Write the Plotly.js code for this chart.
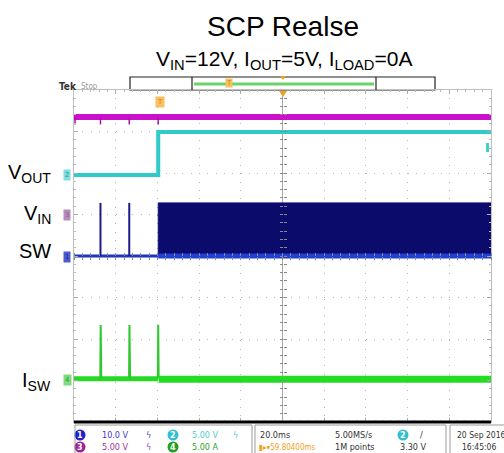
<!DOCTYPE html>
<html>
<head>
<meta charset="utf-8">
<script src="https://cdn.plot.ly/plotly-3.0.1.min.js"></script>
<style>html,body{margin:0;padding:0;background:#fff}#chart{width:504px;height:453px}</style>
</head>
<body>
<div id="chart"></div>
<script>
// ---- data (time in ms, 20 ms/div; amplitude in screen divisions) ----
const vinT  = [-100, 100];
const vinV  = [3.35, 3.35];
const vinDipT = [-99.5, -99.5, null, -87.3, -87.3, null, -73.5, -73.5, null, -59.6, -59.6];
const vinDipV = [3.35, 3.17, null, 3.35, 3.17, null, 3.35, 3.17, null, 3.35, 3.17];
const voutT = [-100, -59.6, -59.6, 100];
const voutV = [1.95, 1.95, 2.99, 2.99];
const swT   = [-100, -59.6];
const swV   = [0, 0];
const swSpikeT = [-87.3, -87.3, null, -73.5, -73.5];
const swSpikeV = [0, 1.28, null, 0, 1.28];
const swBurstT    = [-59.6, 100];
const swBurstHigh = [1.28, 1.28];
const swBurstLow  = [0, 0];
const iswT  = [-100, -59.6];
const iswV  = [-2.96, -2.96];
const iswSpikeT = [-87.4, -87.2, -86.9, null, -73.6, -73.4, -73.1, null, -59.8, -59.6, -59.4];
const iswSpikeV = [-2.95, -1.66, -2.95, null, -2.95, -1.66, -2.95, null, -2.95, -1.66, -2.95];
const iswOnT = [-59.4, 100];
const iswOnV = [-2.97, -2.97];
const chLabels = ['V<sub>OUT</sub>', 'V<sub>IN</sub>', 'SW', 'I<sub>SW</sub>'];

// ---- helpers: pixel -> paper ----
const L = 74, R = 491, T = 90, B = 422;
const PX = x => (x - L) / (R - L);
const PY = y => (B - y) / (B - T);

const traces = [
  {x: vinT, y: vinV, mode: 'lines', line: {color: '#cc11cc', width: 6}, hoverinfo: 'skip'},
  {x: vinDipT, y: vinDipV, mode: 'lines', line: {color: '#b010b0', width: 1.5}, connectgaps: false, hoverinfo: 'skip'},
  {x: voutT, y: voutV, mode: 'lines', line: {color: '#2fcaca', width: 4}, hoverinfo: 'skip'},
  {x: swT, y: swV, mode: 'lines', line: {color: '#1d34c8', width: 3}, hoverinfo: 'skip'},
  {x: swSpikeT, y: swSpikeV, mode: 'lines', line: {color: '#1c1c88', width: 2}, connectgaps: false, hoverinfo: 'skip'},
  {x: [swBurstT[0], swBurstT[0], swBurstT[1], swBurstT[1]],
   y: [swBurstLow[0], swBurstHigh[0], swBurstHigh[1], swBurstLow[1]],
   mode: 'lines', fill: 'toself', fillcolor: '#0b0b6c', line: {color: '#101080', width: 1}, hoverinfo: 'skip'},
  {x: swBurstT, y: swBurstLow, mode: 'lines', line: {color: '#2040d8', width: 5}, hoverinfo: 'skip'},
  {x: iswT, y: iswV, mode: 'lines', line: {color: '#25d925', width: 5}, hoverinfo: 'skip'},
  {x: iswSpikeT, y: iswSpikeV, mode: 'lines', line: {color: '#30c830', width: 2}, connectgaps: false, hoverinfo: 'skip'},
  {x: iswOnT, y: iswOnV, mode: 'lines', line: {color: '#22dd22', width: 7}, hoverinfo: 'skip'},
  {x: [null], y: [null], xaxis: 'x2', yaxis: 'y2', hoverinfo: 'skip'},
  {x: [null], y: [null], xaxis: 'x3', yaxis: 'y3', hoverinfo: 'skip'}
];

const statusFont = {family: 'DejaVu Sans Condensed, Liberation Sans Narrow, sans-serif', size: 9};
const ann = [];
function txt(text, x, y, color, size, extra) {
  ann.push(Object.assign({text: text, xref: 'paper', yref: 'paper', x: PX(x), y: PY(y),
    xanchor: 'left', yanchor: 'middle', showarrow: false,
    font: Object.assign({}, statusFont, {color: color, size: size || 9})}, extra || {}));
}
// subtitle
ann.push({text: 'V<sub>IN</sub>=12V, I<sub>OUT</sub>=5V, I<sub>LOAD</sub>=0A', xref: 'paper', yref: 'paper',
  x: PX(284), y: PY(60), xanchor: 'center', yanchor: 'middle', showarrow: false,
  font: {family: 'Liberation Sans, Arial, sans-serif', size: 21, color: '#000'}});
// left channel labels
const labelY = [173, 214, 251, 381];
chLabels.forEach((t, i) => ann.push({text: t, xref: 'paper', yref: 'paper', x: PX(53), y: PY(labelY[i]),
  xanchor: 'right', yanchor: 'middle', showarrow: false,
  font: {family: 'Liberation Sans, Arial, sans-serif', size: 20, color: '#000'}}));
// channel tags
const tagY = [175, 215, 257, 380], tagTxt = ['2', '3', '1', '4'];
const tagCol = ['#7fdede', '#b58fb8', '#4a5ccc', '#7fd97f'], tagFg = ['#2a9a9a', '#8a5a8a', '#1a2a9a', '#2a9a2a'];
tagY.forEach((y, i) => ann.push({text: tagTxt[i], xref: 'paper', yref: 'paper', x: PX(67), y: PY(y),
  xanchor: 'center', yanchor: 'middle', showarrow: false, bgcolor: tagCol[i], borderpad: 1,
  font: {family: 'DejaVu Sans', size: 7, color: tagFg[i]}}));
// Tek Stop
txt('<b>Tek</b>', 57, 86, '#333', 10, {font: {family: 'DejaVu Sans Condensed, sans-serif', size: 10, color: '#333'}});
txt('Stop', 79, 86, '#999', 8);
// orange markers
txt('T', 225, 83, '#f0a020', 9, {bgcolor: '#f7c060', borderpad: 0, font: {family: 'DejaVu Sans', size: 7, color: '#e08000'}});
txt('T', 155, 102, '#f0a020', 9, {bgcolor: '#f7c060', borderpad: 1, font: {family: 'DejaVu Sans', size: 7, color: '#e08000'}});
// status bar texts
const rowA = 435, rowB = 447;
txt('10.0 V', 100, rowA, '#3a3ad0');
txt('ϟ', 144, rowA, '#4a4ad0');
txt('5.00 V', 190, rowA, '#55cccc');
txt('ϟ', 231, rowA, '#55cccc');
txt('5.00 V', 100, rowB, '#a030a0');
txt('ϟ', 144, rowB, '#8a4ad0');
txt('5.00 A', 190, rowB, '#30a030');
txt('20.0ms', 258, rowA, '#333');
txt('5.00MS/s', 333, rowA, '#333');
txt('/', 418, rowA, '#333');
txt('▮▸▾59.80400ms', 257, rowB, '#f0a020', 8);
txt('1M points', 333, rowB, '#333');
txt('3.30 V', 398, rowB, '#333');
txt('20 Sep 2016', 455, rowA, '#333', 8.5);
txt('16:45:06', 460, rowB, '#333', 8.5);
// circle numbers
const circ = [[80, rowA, '1', '#2020cc'], [173, rowA, '2', '#30c0d0'], [80, rowB, '3', '#a0209a'], [173, rowB, '4', '#20a020'], [403, rowA, '2', '#30c0d0']];
circ.forEach(c => ann.push({text: '<b>' + c[2] + '</b>', xref: 'paper', yref: 'paper', x: PX(c[0]), y: PY(c[1]),
  xanchor: 'center', yanchor: 'middle', showarrow: false, font: {family: 'DejaVu Sans', size: 8, color: '#fff'}}));

const shapes = [
  // record bar
  {type: 'rect', xref: 'paper', yref: 'paper', x0: PX(130), x1: PX(435), y0: PY(90), y1: PY(77), line: {color: '#222', width: 1.2}, fillcolor: '#fff', layer: 'below'},
  {type: 'line', xref: 'paper', yref: 'paper', x0: PX(192), x1: PX(192), y0: PY(90), y1: PY(77), line: {color: '#222', width: 1.2}},
  {type: 'line', xref: 'paper', yref: 'paper', x0: PX(376), x1: PX(376), y0: PY(90), y1: PY(77), line: {color: '#222', width: 1.2}},
  {type: 'line', xref: 'paper', yref: 'paper', x0: PX(194), x1: PX(374), y0: PY(84), y1: PY(84), line: {color: '#6ad46a', width: 3}},
  {type: 'path', xref: 'paper', yref: 'paper', path: `M ${PX(280)} ${PY(76)} L ${PX(286)} ${PY(76)} L ${PX(283)} ${PY(80)} Z`, fillcolor: '#f0a020', line: {width: 0}},
  {type: 'path', xref: 'paper', yref: 'paper', path: `M ${PX(279)} ${PY(91)} L ${PX(287)} ${PY(91)} L ${PX(283)} ${PY(97)} Z`, fillcolor: '#f0a020', line: {width: 0}},
  // trigger-level marker right edge
  {type: 'rect', xref: 'paper', yref: 'paper', x0: PX(486), x1: PX(489), y0: PY(152), y1: PY(143), fillcolor: '#40d0d0', line: {width: 0}},
  // thick bottom line
  {type: 'line', xref: 'paper', yref: 'paper', x0: 0, x1: 1, y0: PY(422), y1: PY(422), line: {color: '#000', width: 3}},
  // status boxes
  {type: 'rect', xref: 'paper', yref: 'paper', x0: PX(75), x1: PX(252), y0: PY(455), y1: PY(425), line: {color: '#9a9a9a', width: 1}},
  {type: 'rect', xref: 'paper', yref: 'paper', x0: PX(255), x1: PX(446), y0: PY(455), y1: PY(425), line: {color: '#9a9a9a', width: 1}},
  {type: 'rect', xref: 'paper', yref: 'paper', x0: PX(450), x1: PX(510), y0: PY(455), y1: PY(425), line: {color: '#9a9a9a', width: 1}}
];
circ.forEach(c => shapes.push({type: 'circle', xref: 'paper', yref: 'paper', x0: PX(c[0] - 5.5), x1: PX(c[0] + 5.5),
  y0: PY(c[1] + 5.5), y1: PY(c[1] - 5.5), fillcolor: c[3], line: {width: 0}, layer: 'below'}));

const gridDash = '1px,7.34px';
const layout = {
  width: 504, height: 453,
  margin: {l: L, r: 504 - R, t: T, b: 453 - B},
  paper_bgcolor: '#fff', plot_bgcolor: '#fff',
  showlegend: false,
  title: {text: 'SCP Realse', x: 283 / 504, xref: 'container', xanchor: 'center', y: 1 - 26 / 453, yref: 'container', yanchor: 'middle',
    font: {family: 'Liberation Sans, Arial, sans-serif', size: 28, color: '#000'}},
  xaxis: {range: [-100, 100], dtick: 20, tick0: -100, showticklabels: false, showgrid: true, gridcolor: '#b8b8b8', griddash: gridDash,
    zeroline: true, zerolinecolor: '#a8a8a8', zerolinewidth: 1,
    showline: true, linecolor: '#c0c0c0', mirror: 'ticks', ticks: 'inside', ticklen: 4, tickcolor: '#aaa',
    minor: {dtick: 4, tick0: -100, ticks: 'inside', ticklen: 2, tickcolor: '#bbb', showgrid: false}, fixedrange: true},
  yaxis: {range: [-4, 4], dtick: 1, tick0: -4, showticklabels: false, showgrid: true, gridcolor: '#b8b8b8', griddash: gridDash,
    zeroline: true, zerolinecolor: '#a8a8a8', zerolinewidth: 1,
    showline: true, linecolor: '#c0c0c0', mirror: 'ticks', ticks: 'inside', ticklen: 4, tickcolor: '#aaa',
    minor: {dtick: 0.2, tick0: -4, ticks: 'inside', ticklen: 2, tickcolor: '#bbb', showgrid: false}, fixedrange: true},
  xaxis2: {overlaying: 'x', anchor: 'free', position: 0.5, side: 'bottom', range: [-100, 100], dtick: 4, tick0: -100,
    ticks: 'outside', ticklen: 3, tickcolor: '#888', showticklabels: false, showgrid: false, zeroline: false, showline: false},
  yaxis2: {overlaying: 'y', anchor: 'free', position: 0.5, side: 'left', range: [-4, 4], dtick: 0.2, tick0: -4,
    ticks: 'outside', ticklen: 3, tickcolor: '#888', showticklabels: false, showgrid: false, zeroline: false, showline: false},
  xaxis3: {overlaying: 'x', anchor: 'free', position: 0.5, side: 'top', range: [-100, 100], dtick: 4, tick0: -100,
    ticks: 'outside', ticklen: 3, tickcolor: '#888', showticklabels: false, showgrid: false, zeroline: false, showline: false},
  yaxis3: {overlaying: 'y', anchor: 'free', position: 0.5, side: 'right', range: [-4, 4], dtick: 0.2, tick0: -4,
    ticks: 'outside', ticklen: 3, tickcolor: '#888', showticklabels: false, showgrid: false, zeroline: false, showline: false},
  annotations: ann,
  shapes: shapes
};
Plotly.newPlot('chart', traces, layout, {staticPlot: true, displayModeBar: false});
</script>
</body>
</html>
